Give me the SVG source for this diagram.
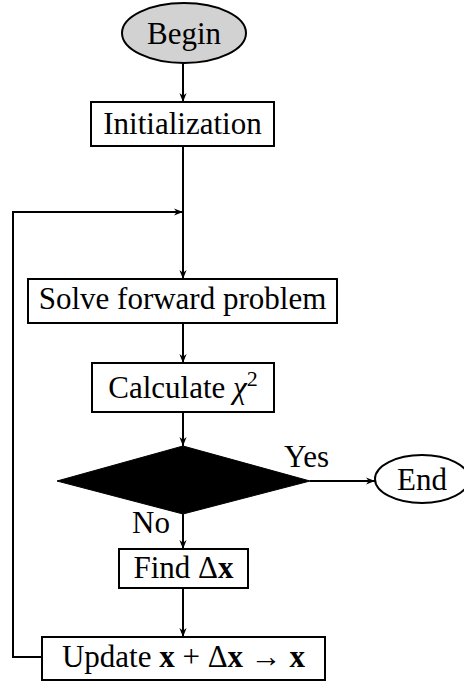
<svg xmlns="http://www.w3.org/2000/svg" width="464" height="682" viewBox="0 0 464 682">
<defs>
<marker id="ah" viewBox="0 0 10 10" refX="10" refY="5" markerWidth="9" markerHeight="9" markerUnits="userSpaceOnUse" orient="auto">
<path d="M0,1 L10,5 L0,9 L3,5 Z" fill="#000"/>
</marker>
</defs>
<style>
.box{fill:#fff;stroke:#000;stroke-width:2}
.lbl{font-family:"Liberation Serif","Times New Roman",serif;font-size:31px;fill:#000}
.conn{fill:none;stroke:#000;stroke-width:2}
</style>
<rect width="464" height="682" fill="#fff"/>
<g id="connectors">
<line class="conn" x1="183" y1="63" x2="183" y2="102" marker-end="url(#ah)"/>
<line class="conn" x1="183" y1="146" x2="183" y2="279" marker-end="url(#ah)"/>
<line class="conn" x1="183" y1="323" x2="183" y2="363" marker-end="url(#ah)"/>
<line class="conn" x1="183" y1="412" x2="183" y2="446" marker-end="url(#ah)"/>
<line class="conn" x1="310" y1="481" x2="375" y2="481" marker-end="url(#ah)"/>
<line class="conn" x1="183" y1="514" x2="183" y2="549" marker-end="url(#ah)"/>
<line class="conn" x1="183" y1="588" x2="183" y2="637" marker-end="url(#ah)"/>
<polyline class="conn" points="42,657 13,657 13,212 183,212" marker-end="url(#ah)"/>
<text class="lbl" x="284" y="467">Yes</text>
<text class="lbl" x="132" y="533">No</text>
</g>
<g id="begin">
<ellipse cx="184" cy="33" rx="62" ry="30" fill="#d2d2d2" stroke="#000" stroke-width="2"/>
<text class="lbl" x="184" y="44" text-anchor="middle">Begin</text>
</g>
<g id="init">
<rect class="box" x="91" y="102" width="183" height="44"/>
<text class="lbl" x="182.5" y="134" text-anchor="middle">Initialization</text>
</g>
<g id="solve">
<rect class="box" x="28" y="279" width="309" height="44"/>
<text class="lbl" x="182.5" y="309" text-anchor="middle">Solve forward problem</text>
</g>
<g id="calc">
<rect class="box" x="92" y="363" width="182" height="49"/>
<text class="lbl" x="183" y="398" text-anchor="middle">Calculate <tspan font-style="italic">χ</tspan><tspan font-size="22" dy="-12">2</tspan></text>
</g>
<g id="decision">
<polygon points="183,446 310,481 183,514 57,481" fill="#000" stroke="#000" stroke-width="1"/>
</g>
<g id="end">
<ellipse cx="422" cy="479" rx="47" ry="24" fill="#fff" stroke="#000" stroke-width="2"/>
<text class="lbl" x="422" y="490" text-anchor="middle">End</text>
</g>
<g id="find">
<rect class="box" x="119" y="549" width="129" height="39"/>
<text class="lbl" x="183.5" y="578" text-anchor="middle">Find Δ<tspan font-weight="bold">x</tspan></text>
</g>
<g id="update">
<rect class="box" x="42" y="637" width="283" height="43"/>
<text class="lbl" x="183.5" y="667" text-anchor="middle">Update <tspan font-weight="bold">x</tspan> + Δ<tspan font-weight="bold">x</tspan> → <tspan font-weight="bold">x</tspan></text>
</g>
</svg>
